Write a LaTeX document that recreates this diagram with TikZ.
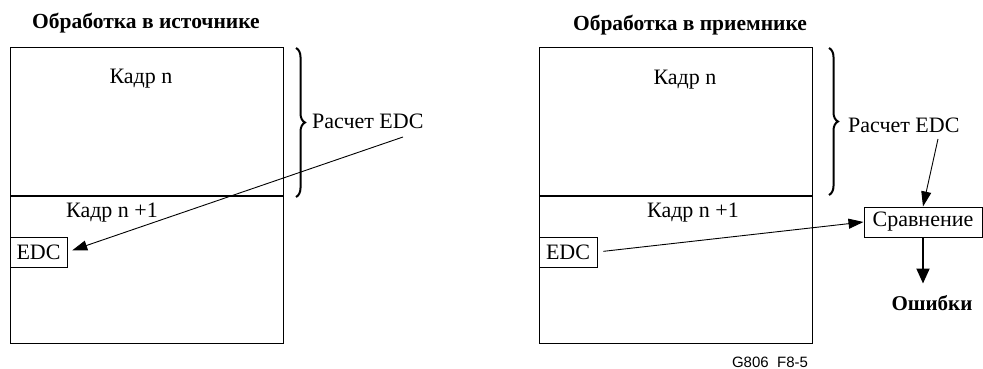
\documentclass[tikz,border=0pt]{standalone}
\usepackage{fontspec}
\setmainfont{Liberation Serif}
\newfontfamily\figsans{Liberation Sans}
\usetikzlibrary{arrows.meta,decorations.pathreplacing}

\begin{document}
\begin{tikzpicture}[x=1pt,y=-1pt,
  txt/.style={font=\fontsize{22}{26}\selectfont, inner sep=0pt},
  heading/.style={font=\fontsize{21.5}{26}\selectfont\bfseries, inner sep=0pt},
  framebox/.style={draw, line width=1pt},
  divider/.style={line width=2pt},
  tagbox/.style={draw, line width=1pt, inner sep=0pt, minimum height=30pt,
    font=\fontsize{22}{26}\selectfont},
  link/.style={-{Triangle[length=15pt,width=10pt]}, line width=0.9pt},
  outlink/.style={-{Triangle[length=15pt,width=13pt]}, line width=2pt},
  curly/.style={decorate, decoration={brace, amplitude=9pt}, line width=2pt}
]
\useasboundingbox (0,0) rectangle (983,369);

% ---------- source side ----------
\node[heading] (srcTitle) at (146,23) {Обработка в источнике};
\draw[framebox] (10,48) rectangle (283,343);
\draw[divider] (10,196) -- (283,196);
\node[txt] (srcFrameA) at (141,79) {Кадр n};
\node[txt] (srcFrameB) at (112,213) {Кадр n +1};
\node[tagbox, minimum width=57pt] (srcEdc) at (38.5,252) {EDC};
\draw[curly] (296,48) -- (296,197);
\node[txt, anchor=west] (srcCalc) at (312,121) {Расчет EDC};
\coordinate (srcFrom) at (403,137);
\draw[link, shorten >=5pt] (srcFrom) -- (srcEdc.east);

% ---------- receiver side ----------
\node[heading] (rxTitle) at (690,25) {Обработка в приемнике};
\draw[framebox] (539,48) rectangle (812,343);
\draw[divider] (539,196) -- (812,196);
\node[txt] (rxFrameA) at (685,80) {Кадр n};
\node[txt] (rxFrameB) at (693,213) {Кадр n +1};
\node[tagbox, minimum width=58pt] (rxEdc) at (568,252) {EDC};
\draw[curly] (829,48) -- (829,195);
\node[txt, anchor=west] (rxCalc) at (848,125) {Расчет EDC};
\node[tagbox, minimum width=118pt] (cmp) at (923,222) {Сравнение};
\coordinate (rxFrom) at (938,139);
\draw[link] (rxFrom) -- (cmp.north);
\draw[link, shorten <=6pt] (rxEdc.east) -- (cmp.west);
\node[heading, font=\fontsize{21}{26}\selectfont\bfseries] (errors) at (932,303) {Ошибки};
\draw[outlink] (cmp.south) -- ([yshift=-46pt]cmp.south);

\node[font=\figsans\fontsize{15}{17}\selectfont, inner sep=0pt] (figId) at (770,362) {G806\ \ F8-5};
\end{tikzpicture}
\end{document}
